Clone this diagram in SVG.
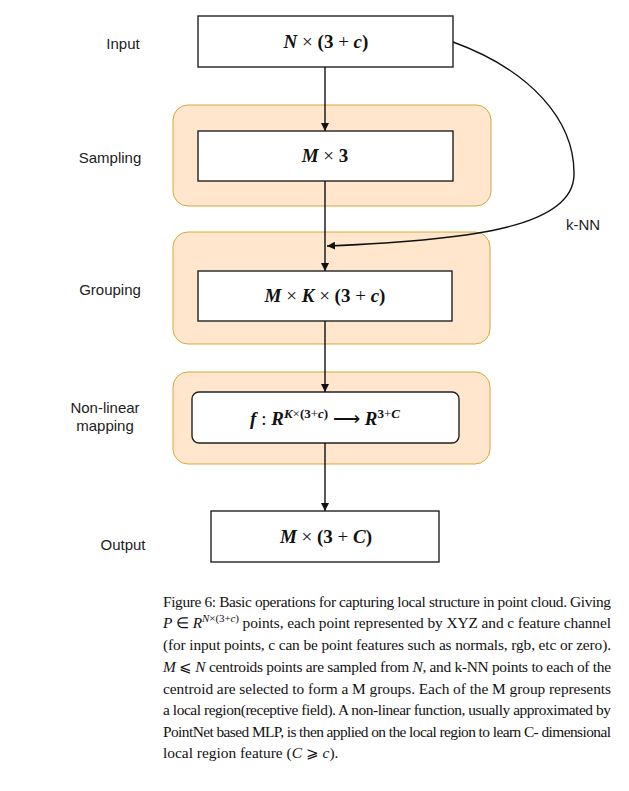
<svg xmlns="http://www.w3.org/2000/svg" width="629" height="791" viewBox="0 0 629 791">
<defs>
<style>
.bg{fill:#FFE6CC;stroke:#D9A53A;stroke-width:1}
.box{fill:#fff;stroke:#222;stroke-width:1.4}
.lbl{font-family:"Liberation Sans",Arial,sans-serif;font-size:15px;fill:#222}
.math{font-family:"Liberation Serif","Times New Roman",serif;font-size:19px;font-weight:bold;fill:#111;text-anchor:middle}
.v{font-style:italic}
.op{font-weight:normal}
.sup{font-size:13px}
.cap{font-family:"Liberation Serif","Times New Roman",serif;font-size:15.4px;fill:#111}
.edge{fill:none;stroke:#111;stroke-width:1.4}
</style>
<marker id="ah" viewBox="0 0 10 10" refX="10" refY="5" markerWidth="8" markerHeight="8" markerUnits="userSpaceOnUse" orient="auto">
<path d="M0,0 L10,5 L0,10 z" fill="#111"/>
</marker>
</defs>
<rect width="629" height="791" fill="#fff"/>

<g id="sampling-group"><rect class="bg" x="173" y="105" width="318" height="101" rx="15"/></g>
<g id="grouping-group"><rect class="bg" x="173" y="232" width="317" height="112" rx="15"/></g>
<g id="nonlinear-group"><rect class="bg" x="173" y="372" width="317" height="92" rx="15"/></g>

<g id="input">
<rect class="box" x="198" y="16" width="255" height="51"/>
<text class="math" x="326" y="48"><tspan class="v">N</tspan><tspan class="op"> × </tspan>(3<tspan class="op"> + </tspan><tspan class="v">c</tspan>)</text>
</g>
<g id="sampling">
<rect class="box" x="198" y="131" width="255" height="50"/>
<text class="math" x="325" y="162"><tspan class="v">M</tspan><tspan class="op"> × </tspan>3</text>
</g>
<g id="grouping">
<rect class="box" x="198" y="271" width="254" height="50"/>
<text class="math" x="325" y="302"><tspan class="v">M</tspan><tspan class="op"> × </tspan><tspan class="v">K</tspan><tspan class="op"> × </tspan>(3<tspan class="op"> + </tspan><tspan class="v">c</tspan>)</text>
</g>
<g id="nonlinear">
<rect class="box" x="192" y="392" width="267" height="51" rx="7"/>
<text class="math" x="325" y="425"><tspan class="v">f</tspan><tspan class="op"> : </tspan><tspan class="v">R</tspan><tspan class="sup" dy="-7"><tspan class="v">K</tspan><tspan class="op">×</tspan>(3<tspan class="op">+</tspan><tspan class="v">c</tspan>)</tspan><tspan dy="7" class="op"> ⟶ </tspan><tspan class="v">R</tspan><tspan class="sup" dy="-7">3<tspan class="op">+</tspan><tspan class="v">C</tspan></tspan></text>
</g>
<g id="output">
<rect class="box" x="211" y="511" width="228" height="51"/>
<text class="math" x="326" y="543"><tspan class="v">M</tspan><tspan class="op"> × </tspan>(3<tspan class="op"> + </tspan><tspan class="v">C</tspan>)</text>
</g>

<g id="labels">
<text class="lbl" x="123" y="49" text-anchor="middle">Input</text>
<text class="lbl" x="110" y="163" text-anchor="middle">Sampling</text>
<text class="lbl" x="110" y="295" text-anchor="middle">Grouping</text>
<text class="lbl" x="105" y="413" text-anchor="middle">Non-linear</text>
<text class="lbl" x="105" y="431" text-anchor="middle">mapping</text>
<text class="lbl" x="123" y="550" text-anchor="middle">Output</text>
</g>

<g id="connectors">
<line class="edge" x1="325" y1="67" x2="325" y2="131" marker-end="url(#ah)"/>
<line class="edge" x1="325" y1="181" x2="325" y2="271" marker-end="url(#ah)"/>
<line class="edge" x1="325" y1="321" x2="325" y2="392" marker-end="url(#ah)"/>
<line class="edge" x1="325" y1="443" x2="325" y2="511" marker-end="url(#ah)"/>
<path class="edge" d="M453,42 C530,70 575,120 574,175 C573,225 480,240 327,246" marker-end="url(#ah)"/>
<text class="lbl" x="566" y="230" font-size="14">k-NN</text>
</g>

<g id="caption">
<text class="cap" x="163" y="607" textLength="448" lengthAdjust="spacing">Figure 6: Basic operations for capturing local structure in point cloud. Giving</text>
<text class="cap" x="163" y="628" textLength="448" lengthAdjust="spacing"><tspan font-style="italic">P</tspan> ∈ <tspan font-style="italic">R</tspan><tspan font-size="11" dy="-6"><tspan font-style="italic">N</tspan>×(3+<tspan font-style="italic">c</tspan>)</tspan><tspan dy="6"> points, each point represented by XYZ and c feature channel</tspan></text>
<text class="cap" x="163" y="650" textLength="448" lengthAdjust="spacing">(for input points, c can be point features such as normals, rgb, etc or zero).</text>
<text class="cap" x="163" y="672" textLength="448" lengthAdjust="spacing"><tspan font-style="italic">M</tspan> ⩽ <tspan font-style="italic">N</tspan> centroids points are sampled from <tspan font-style="italic">N</tspan>, and k-NN points to each of the</text>
<text class="cap" x="163" y="694" textLength="448" lengthAdjust="spacing">centroid are selected to form a M groups.  Each of the M group represents</text>
<text class="cap" x="163" y="715" textLength="448" lengthAdjust="spacing">a local region(receptive field). A non-linear function, usually approximated by</text>
<text class="cap" x="163" y="737" textLength="448" lengthAdjust="spacing">PointNet based MLP, is then applied on the local region to learn C- dimensional</text>
<text class="cap" x="163" y="758">local region feature (<tspan font-style="italic">C</tspan> ⩾ <tspan font-style="italic">c</tspan>).</text>
</g>
</svg>
